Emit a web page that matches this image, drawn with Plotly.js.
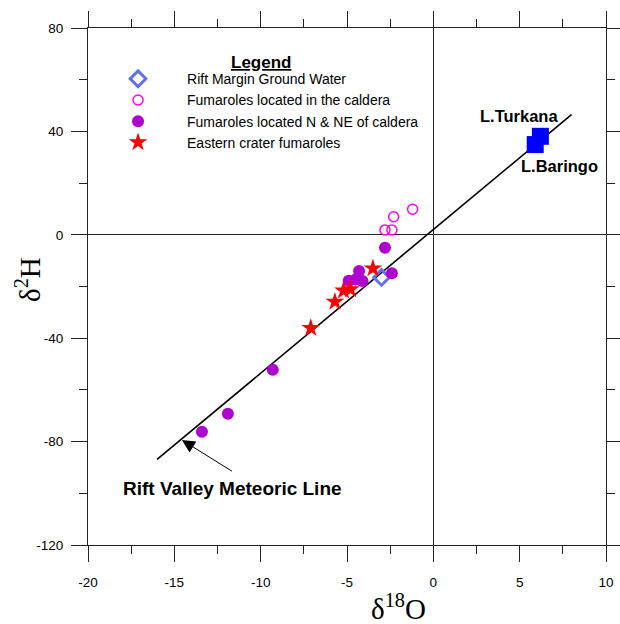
<!DOCTYPE html>
<html>
<head>
<meta charset="utf-8">
<script src="https://cdn.plot.ly/plotly-3.0.1.min.js"></script>
<style>html,body{margin:0;padding:0;background:#fff;}#chart{width:620px;height:624px;}</style>
</head>
<body>
<div id="chart"></div>
<script>
// Rift Valley Meteoric Line end points (dD = 5.56 d18O + 2.04)
const lineX = [-16, 8];
const lineY = [-86.9, 46.5];

// Rift Margin Ground Water
const rmgwX = [-3.0];
const rmgwY = [-16.5];

// Fumaroles located in the caldera
const calderaX = [-2.8, -2.4, -2.3, -1.2];
const calderaY = [1.9, 1.9, 7.0, 9.9];

// Fumaroles located N & NE of caldera
const nneX = [-2.8, -4.3, -2.4, -4.9, -4.5, -4.1, -9.3, -11.9, -13.4];
const nneY = [-5.0, -14.0, -14.9, -17.8, -17.3, -17.9, -52.2, -69.2, -76.2];

// Eastern crater fumaroles
const eastX = [-3.5, -4.8, -5.2, -5.7, -7.1];
const eastY = [-13.0, -21.1, -21.6, -25.9, -36.1];

// Lakes
const lakeNames = ['L.Turkana', 'L.Baringo'];
const lakeX = [6.2, 5.9];
const lakeY = [38.1, 34.9];

// Tick labels
const xTickVals = [-20, -15, -10, -5, 0, 5, 10];
const xTickText = ['-20', '-15', '-10', '-5', '0', '5', '10'];
const yTickVals = [-120, -80, -40, 0, 40, 80];
const yTickText = ['-120', '-80', '-40', '0', '40', '80'];

const FONT = 'Arial, "Liberation Sans", sans-serif';
const SERIF = '"Times New Roman", "Liberation Serif", serif';

const traces = [
  {x: lineX, y: lineY, mode: 'lines', line: {color: '#000', width: 1.6}, showlegend: false, hoverinfo: 'skip'},
  {x: rmgwX, y: rmgwY, mode: 'markers', name: 'Rift Margin Ground Water',
   marker: {symbol: 'diamond-open', size: 12, color: '#6070f0', line: {color: '#6070f0', width: 3}}},
  {x: calderaX, y: calderaY, mode: 'markers', name: 'Fumaroles located in the caldera',
   marker: {symbol: 'circle-open', size: 10, color: '#ff00ff', line: {color: '#ff00ff', width: 1.5}}},
  {x: nneX, y: nneY, mode: 'markers', name: 'Fumaroles located N & NE of caldera',
   marker: {symbol: 'circle', size: 12, color: '#b000d0'}},
  {x: eastX, y: eastY, mode: 'markers', name: 'Eastern crater fumaroles',
   marker: {symbol: 'star', size: 14, color: '#ff0000'}},
  {x: lakeX, y: lakeY, mode: 'markers', text: lakeNames, showlegend: false,
   marker: {symbol: 'square', size: 17, color: '#0000ff'}}
];

const axisCommon = {
  showline: true, linecolor: '#222', linewidth: 1,
  ticks: 'outside', ticklen: 16, tickcolor: '#222', tickwidth: 1,
  mirror: 'allticks', showgrid: false,
  zeroline: true, zerolinecolor: '#222', zerolinewidth: 1,
  tickmode: 'array',
  tickfont: {family: FONT, size: 13.5, color: '#000'}
};

const layout = {
  width: 620, height: 624,
  margin: {l: 88, r: 14, t: 28, b: 79},
  paper_bgcolor: '#fff', plot_bgcolor: '#fff',
  font: {family: FONT, color: '#000'},
  xaxis: Object.assign({}, axisCommon, {
    range: [-20, 10], tickvals: xTickVals, ticktext: xTickText, ticklabelstandoff: 9,
    minor: {dtick: 2.5, tick0: 0, ticks: 'outside', ticklen: 8, tickcolor: '#222', showgrid: false}
  }),
  yaxis: Object.assign({}, axisCommon, {
    range: [-120, 80], tickvals: yTickVals, ticktext: yTickText, ticklabelstandoff: 5,
    minor: {dtick: 20, tick0: 0, ticks: 'outside', ticklen: 8, tickcolor: '#222', showgrid: false}
  }),
  showlegend: true,
  legend: {
    x: 0.002, xanchor: 'left', y: 0.932, yanchor: 'top',
    bgcolor: 'rgba(0,0,0,0)', itemwidth: 88,
    font: {family: FONT, size: 14, color: '#000'}
  },
  annotations: [
    {xref: 'x', yref: 'y', x: -9.98, y: 66.5, text: '<b><u>Legend</u></b>', showarrow: false,
     font: {family: FONT, size: 17, color: '#000'}},
    {xref: 'x', yref: 'y', x: 4.96, y: 46.0, text: '<b>L.Turkana</b>', showarrow: false,
     font: {family: FONT, size: 16.5, color: '#000'}},
    {xref: 'x', yref: 'y', x: 7.33, y: 26.6, text: '<b>L.Baringo</b>', showarrow: false,
     font: {family: FONT, size: 16.5, color: '#000'}},
    {xref: 'x', yref: 'y', x: -11.66, y: -98.3, text: '<b>Rift Valley Meteoric Line</b>', showarrow: false,
     font: {family: FONT, size: 19, color: '#000'}},
    {xref: 'x', yref: 'y', x: -14.56, y: -79.4, text: ' ', showarrow: true, ax: 53, ay: 33,
     arrowhead: 2, arrowsize: 2.6, arrowwidth: 1, arrowcolor: '#000', standoff: 0},
    {xref: 'paper', yref: 'paper', x: (398 - 88) / 518, y: -(607 - 545) / 517, text: 'δ<sup>18</sup>O', showarrow: false,
     xanchor: 'center', yanchor: 'middle', font: {family: SERIF, size: 29, color: '#000'}},
    {xref: 'paper', yref: 'paper', x: -(88 - 28) / 518, y: 1 - (280 - 28) / 517, text: 'δ<sup>2</sup>H', showarrow: false,
     textangle: -90, xanchor: 'center', yanchor: 'middle', font: {family: SERIF, size: 29, color: '#000'}}
  ]
};

Plotly.newPlot('chart', traces, layout, {displayModeBar: false, staticPlot: true});
</script>
</body>
</html>
